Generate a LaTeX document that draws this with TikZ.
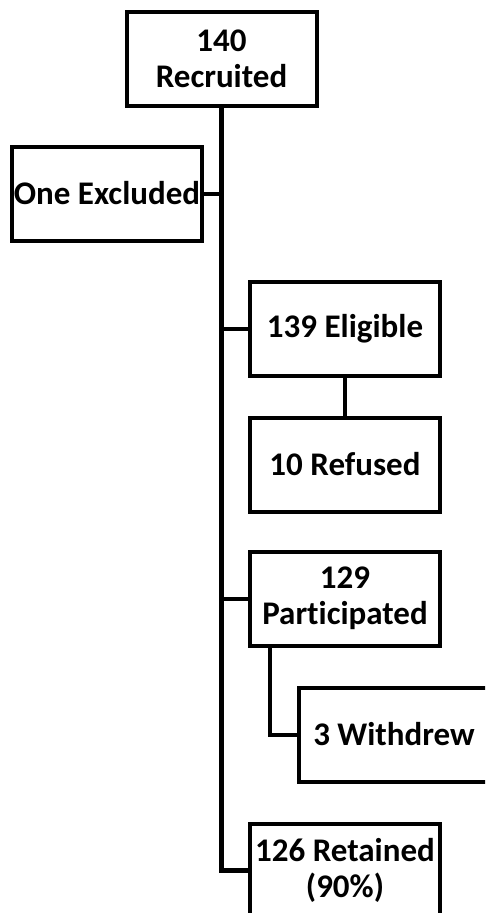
\documentclass[tikz,border=0pt]{standalone}
\usepackage{fontspec}
\setmainfont{Carlito}[Ligatures={NoCommon}]
\begin{document}
\begin{tikzpicture}[x=1pt,y=-1pt,
  box/.style={draw=black, line width=4pt, fill=white, minimum width=190pt, minimum height=94pt,
    inner sep=0pt, align=center, font=\bfseries\fontsize{33}{36}\selectfont},
  link/.style={draw=black, line width=4pt, line join=miter},
  trunk/.style={draw=black, line width=5pt, line join=miter}]
\useasboundingbox (0,0) rectangle (485,913);
\clip (0,0) rectangle (485,913);
\node[box] (rec) at (221.5,59) {140\\Recruited};
\node[box] (exc) at (107,193.5) {One Excluded};
\node[box] (eli) at (345,328.5) {139 Eligible};
\node[box] (ref) at (345,464.5) {10 Refused};
\node[box] (par) at (345,598.5) {129\\Part\kern0pt icipated};
\node[box] (wd) at (394,734.5) {3 Withdrew};
\node[box] (ret) at (345,870.5) {126 Retained\\(90\%)};
\coordinate (wk) at (270,0);
\draw[trunk] (rec.south) -- (rec.south |- ret.west) -- (ret.west);
\draw[link] (exc.east) -- (exc.east -| rec.south);
\draw[link] (eli.west) -- (eli.west -| rec.south);
\draw[link] (par.west) -- (par.west -| rec.south);
\draw[link] (eli.south) -- (ref.north);
\draw[link] (wk |- par.south) |- (wd.west);
\end{tikzpicture}
\end{document}
